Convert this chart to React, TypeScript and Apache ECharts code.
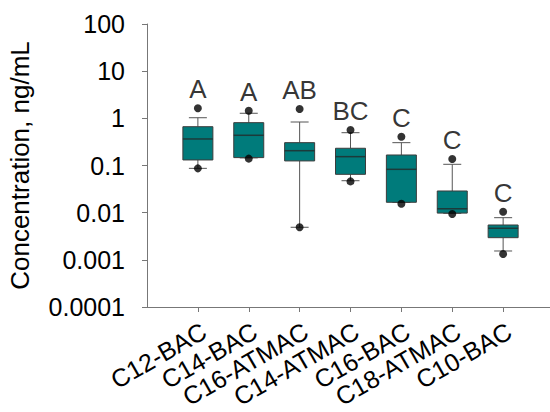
import React, { useEffect, useRef } from 'react';
import * as echarts from 'echarts';

const categories = ['C12-BAC', 'C14-BAC', 'C16-ATMAC', 'C14-ATMAC', 'C16-BAC', 'C18-ATMAC', 'C10-BAC'];
const whiskerLow = [0.087, 0.145, 0.0049, 0.0476, 0.0165, 0.0097, 0.00154];
const q1 = [0.131, 0.147, 0.125, 0.065, 0.0166, 0.0098, 0.00295];
const median = [0.365, 0.437, 0.206, 0.154, 0.083, 0.0121, 0.00467];
const q3 = [0.665, 0.81, 0.305, 0.232, 0.167, 0.0288, 0.00548];
const whiskerHigh = [1.03, 1.28, 0.836, 0.496, 0.305, 0.106, 0.00783];
const outlierHigh = [1.63, 1.45, 1.58, 0.566, 0.408, 0.137, 0.0105];
const outlierLow = [0.087, 0.14, 0.0049, 0.046, 0.0155, 0.0094, 0.00133];
const letters = ['A', 'A', 'AB', 'BC', 'C', 'C', 'C'];
const yTickLabels = ['0.0001', '0.001', '0.01', '0.1', '1', '10', '100'];

const FONT = 'Liberation Sans, Arial, sans-serif';

export default function App() {
  const ref = useRef<HTMLDivElement>(null);
  useEffect(() => {
    if (!ref.current) return;
    const chart = echarts.init(ref.current, null, { renderer: 'svg' });
    const axisCats = ['', ...categories, ' '];
    const boxData = categories.map((_, i) => [i + 1, whiskerLow[i], q1[i], median[i], q3[i], whiskerHigh[i]]);
    const highDots = categories.map((_, i) => [i + 1, outlierHigh[i]]);
    const lowDots = categories.map((_, i) => [i + 1, outlierLow[i]]);
    chart.setOption({
      animation: false,
      grid: { left: 147, top: 24, width: 407, height: 283, containLabel: false, outerBoundsMode: 'none' },
      xAxis: {
        type: 'category',
        data: axisCats,
        boundaryGap: false,
        axisLine: { lineStyle: { color: '#777', width: 1 } },
        axisTick: {
          length: 5,
          interval: (index: number) => index !== 0 && index !== axisCats.length - 1,
          lineStyle: { color: '#777' },
        },
        axisLabel: {
          interval: 0,
          rotate: 30,
          margin: 11,
          verticalAlign: 'top',
          fontSize: 25,
          color: '#000',
          fontFamily: FONT,
        },
        splitLine: { show: false },
      },
      yAxis: {
        type: 'log',
        logBase: 10,
        min: 0.0001,
        max: 100,
        name: 'Concentration, ng/mL',
        nameLocation: 'middle',
        nameGap: 114,
        nameTextStyle: { fontSize: 26, color: '#000', fontFamily: FONT },
        axisLine: { show: true, lineStyle: { color: '#777', width: 1 } },
        axisTick: { show: true, length: 5, lineStyle: { color: '#777' } },
        axisLabel: {
          margin: 22,
          fontSize: 25,
          color: '#000',
          fontFamily: FONT,
          formatter: (v: number) => {
            const idx = Math.round(Math.log10(v)) + 4;
            return yTickLabels[idx] ?? '';
          },
        },
        splitLine: { show: false },
      },
      series: [
        {
          type: 'custom',
          data: boxData,
          encode: { x: 0, y: [1, 2, 3, 4, 5] },
          z: 2,
          renderItem: (params: any, api: any) => {
            const x = api.value(0);
            const lo = api.coord([x, api.value(1)]);
            const b = api.coord([x, api.value(2)]);
            const m = api.coord([x, api.value(3)]);
            const t = api.coord([x, api.value(4)]);
            const hi = api.coord([x, api.value(5)]);
            const cx = lo[0];
            const hw = 15;
            const cw = 9;
            const wStyle = { stroke: '#555', lineWidth: 1 };
            return {
              type: 'group',
              children: [
                { type: 'line', shape: { x1: cx, y1: hi[1], x2: cx, y2: t[1] }, style: wStyle },
                { type: 'line', shape: { x1: cx, y1: b[1], x2: cx, y2: lo[1] }, style: wStyle },
                { type: 'line', shape: { x1: cx - cw, y1: hi[1], x2: cx + cw, y2: hi[1] }, style: wStyle },
                { type: 'line', shape: { x1: cx - cw, y1: lo[1], x2: cx + cw, y2: lo[1] }, style: wStyle },
                {
                  type: 'rect',
                  shape: { x: cx - hw, y: t[1], width: hw * 2, height: b[1] - t[1] },
                  style: { fill: '#007b7b', stroke: '#3c3c3c', lineWidth: 1 },
                },
                { type: 'line', shape: { x1: cx - hw, y1: m[1], x2: cx + hw, y2: m[1] }, style: { stroke: '#1c3a3a', lineWidth: 1.5 } },
              ],
            };
          },
        },
        {
          type: 'scatter',
          data: highDots,
          symbol: 'circle',
          symbolSize: 8,
          itemStyle: { color: '#000' },
          z: 5,
          label: {
            show: true,
            position: 'top',
            distance: 2,
            fontSize: 26,
            color: '#000',
            fontFamily: FONT,
            formatter: (p: any) => letters[p.dataIndex],
          },
        },
        {
          type: 'scatter',
          data: lowDots,
          symbol: 'circle',
          symbolSize: 8,
          itemStyle: { color: '#000' },
          z: 5,
        },
      ],
    });
    return () => chart.dispose();
  }, []);
  return <div ref={ref} style={{ position: 'absolute', left: 0, top: 0, width: 550, height: 412 }} />;
}
